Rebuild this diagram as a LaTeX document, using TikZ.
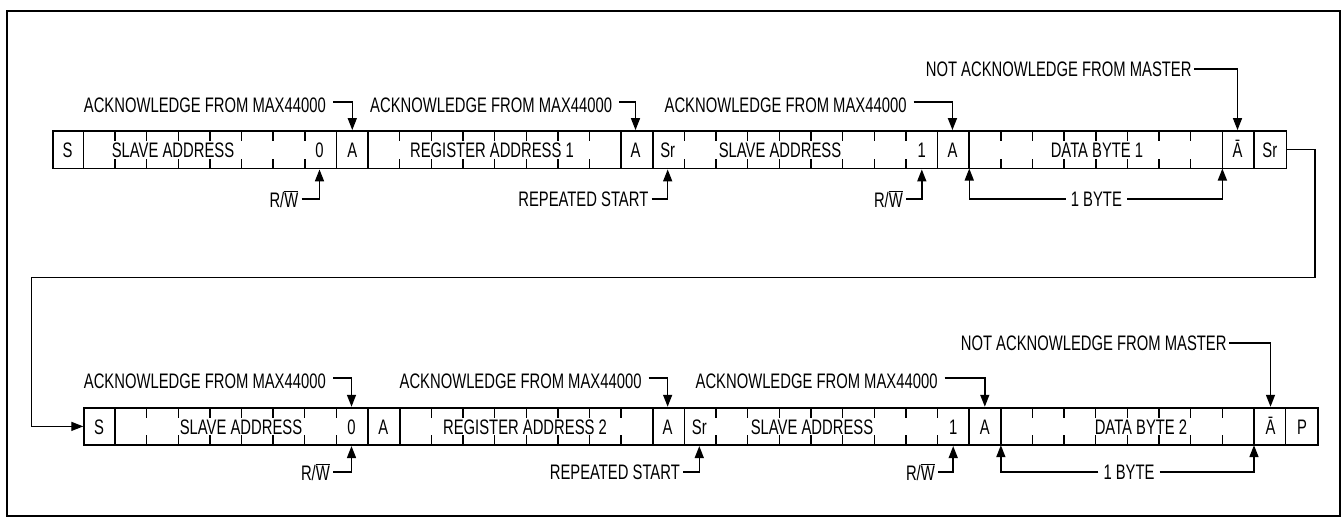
\documentclass[tikz,border=0pt]{standalone}
\usepackage{fontspec}
\setmainfont{Liberation Sans}[FakeStretch=0.705]
\usetikzlibrary{arrows.meta}
\newcommand\ovlbar[1]{\ensuremath{\overline{\hbox{#1}}}}
\begin{document}
\begin{tikzpicture}[x=1pt,y=-1pt,
  font=\fontsize{21}{25}\selectfont,
  rowbox/.style={draw, line width=1.8pt, minimum width=1233.96pt, minimum height=37.5pt, inner sep=0pt, anchor=west},
  sepline/.style={line width=1.6pt},
  tickline/.style={line width=1.4pt},
  txt/.style={inner sep=0pt, anchor=base},
  lbl/.style={inner xsep=#1, inner ysep=0pt},
  arr/.style={line width=1.5pt, -{Triangle[length=12pt,width=9pt]}},
  looparr/.style={line width=1.3pt, -{Triangle[length=12pt,width=9pt]}},
  frame/.style={draw, line width=2pt}]
\useasboundingbox (0,0) rectangle (1343,527);
\draw[frame] (7,11) rectangle (1340,516);
\def\w{31.64}
% ---------- rows ----------
\node[rowbox] (row1) at (51.7,149.75) {};
\node[rowbox] (row2) at (83.3,426.4) {};
\foreach \xo/\yt in {51.7/131, 83.3/407.65}{
  \foreach \i in {1,9,10,18,19,28,29,37,38}
    \draw[sepline] ({\xo+\i*\w},\yt) -- ++(0,37.5);
  \foreach \i in {2,3,4,5,6,7,8,11,12,13,14,15,16,17,20,21,22,23,24,25,26,27,30,31,32,33,34,35,36}
    \draw[tickline] ({\xo+\i*\w},\yt) -- ++(0,10) ({\xo+\i*\w},\yt+37.5) -- ++(0,-10);
}
% ---------- row 1 texts ----------
\def\ya{157.3}
\node[txt] (s1) at (67.52,\ya) {S};
\node[txt] (sa1) at (173,\ya) {SLAVE ADDRESS};
\node[txt] (z1) at (319.5,\ya) {0};
\node[txt] (a1) at (352.28,\ya) {A};
\node[txt] (ra1) at (492,\ya) {REGISTER ADDRESS 1};
\node[txt] (a2) at (635.5,\ya) {A};
\node[txt] (sr1) at (667.68,\ya) {Sr};
\node[txt] (sb1) at (780,\ya) {SLAVE ADDRESS};
\node[txt] (o1) at (921.8,\ya) {1};
\node[txt] (a3) at (952.44,\ya) {A};
\node[txt] (db1) at (1097,\ya) {DATA BYTE 1};
\node[txt] (na1) at (1237.5,\ya) {Ā};
\node[txt] (sr2) at (1269.84,\ya) {Sr};
% ---------- row 2 texts ----------
\def\yb{434}
\node[txt] (s2) at (99.12,\yb) {S};
\node[txt] (sa2) at (241,\yb) {SLAVE ADDRESS};
\node[txt] (z2) at (351.5,\yb) {0};
\node[txt] (a4) at (383.2,\yb) {A};
\node[txt] (ra2) at (525,\yb) {REGISTER ADDRESS 2};
\node[txt] (a5) at (667.64,\yb) {A};
\node[txt] (sr3) at (699.28,\yb) {Sr};
\node[txt] (sb2) at (812,\yb) {SLAVE ADDRESS};
\node[txt] (o2) at (953.2,\yb) {1};
\node[txt] (a6) at (984.8,\yb) {A};
\node[txt] (db2) at (1141,\yb) {DATA BYTE 2};
\node[txt] (na2) at (1270.5,\yb) {Ā};
\node[txt] (p2) at (1302,\yb) {P};
% ---------- byte boundary coordinates ----------
\coordinate (d1l) at (969.26,168.5);
\coordinate (d1r) at (1222.38,168.5);
\coordinate (d2l) at (1000.86,445.15);
\coordinate (d2r) at (1253.98,445.15);
\coordinate (lp1) at (1315,277.3);
\coordinate (lp2) at (31.7,277.3);
% ---------- row 1 annotations ----------
\node[lbl=7pt, anchor=east] (k1) at (333,105.5) {ACKNOWLEDGE FROM MAX44000};
\node[lbl=7pt, anchor=east] (k2) at (619.3,105.5) {ACKNOWLEDGE FROM MAX44000};
\node[lbl=7pt, anchor=east] (k3) at (913.7,105.5) {ACKNOWLEDGE FROM MAX44000};
\node[lbl=2.5pt, anchor=east] (n1) at (1194.2,69) {NOT ACKNOWLEDGE FROM MASTER};
\draw[arr] ([yshift=3.5pt]k1.east) -| (a1 |- row1.north);
\draw[arr] ([yshift=3.5pt]k2.east) -| (a2 |- row1.north);
\draw[arr] ([yshift=3.5pt]k3.east) -| (a3 |- row1.north);
\draw[arr] (n1.east) -| (na1 |- row1.north);
\node[lbl=3pt, anchor=east] (w1) at (301.5,199) {R/\ovlbar{W}};
\node[lbl=3pt, anchor=east] (r1) at (651.5,199) {REPEATED START};
\node[lbl=3pt, anchor=east] (w2) at (906,199) {R/\ovlbar{W}};
\node[lbl=5pt] (b1) at (1096.4,199) {1 BYTE};
\draw[arr] (w1.east) -| (z1 |- row1.south);
\draw[arr] (r1.east) -| (sr1 |- row1.south);
\draw[arr] (w2.east) -| (o1 |- row1.south);
\draw[arr] (b1.west) -| (d1l);
\draw[arr] (b1.east) -| (d1r);
% ---------- loop connector ----------
\draw[looparr] (row1.east) -| (lp1) -- (lp2) |- (row2.west);
% ---------- row 2 annotations ----------
\node[lbl=7pt, anchor=east] (k4) at (333,381.3) {ACKNOWLEDGE FROM MAX44000};
\node[lbl=7pt, anchor=east] (k5) at (648.7,381.3) {ACKNOWLEDGE FROM MAX44000};
\node[lbl=7pt, anchor=east] (k6) at (944.7,381.3) {ACKNOWLEDGE FROM MAX44000};
\node[lbl=2.5pt, anchor=east] (n2) at (1229.2,343) {NOT ACKNOWLEDGE FROM MASTER};
\draw[arr] ([yshift=3.5pt]k4.east) -| (z2 |- row2.north);
\draw[arr] ([yshift=3.5pt]k5.east) -| (a5 |- row2.north);
\draw[arr] ([yshift=3.5pt]k6.east) -| (a6 |- row2.north);
\draw[arr] (n2.east) -| (na2 |- row2.north);
\node[lbl=3pt, anchor=east] (w3) at (333,472) {R/\ovlbar{W}};
\node[lbl=3pt, anchor=east] (r2) at (683,472) {REPEATED START};
\node[lbl=3pt, anchor=east] (w4) at (938,472) {R/\ovlbar{W}};
\node[lbl=5pt] (b2) at (1129,472) {1 BYTE};
\draw[arr] (w3.east) -| (z2 |- row2.south);
\draw[arr] (r2.east) -| (sr3 |- row2.south);
\draw[arr] (w4.east) -| (o2 |- row2.south);
\draw[arr] (b2.west) -| (d2l);
\draw[arr] (b2.east) -| (d2r);
\end{tikzpicture}
\end{document}
